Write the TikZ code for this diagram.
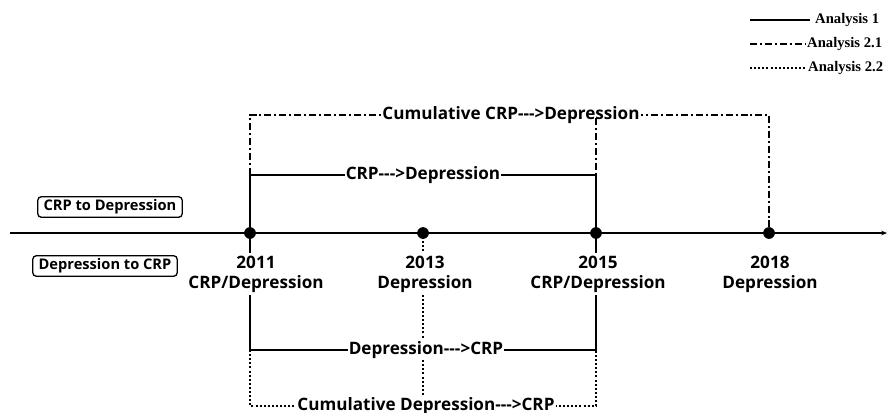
\documentclass[tikz,border=0pt]{standalone}
\usepackage{fontspec}
\setmainfont{Open Sans}
\newfontfamily\legendfont{Liberation Serif}
\usetikzlibrary{arrows.meta}

\newcommand{\lto}{-{}-{}->}
\tikzset{
  lab/.style={font=\bfseries\fontsize{14.6}{17}\selectfont, inner sep=1pt},
  onlab/.style={lab, fill=white},
  yr/.style={lab, align=center, fill=white, inner ysep=2pt},
  dirbox/.style={draw, rounded corners=3pt, line width=1.1pt, font=\bfseries\fontsize{12.5}{14}\selectfont, inner xsep=5pt, inner ysep=2.5pt},
  an1/.style={line width=1.7pt},
  an21/.style={line width=1.7pt, dash pattern=on 6pt off 2.5pt on 1.7pt off 2.5pt},
  an22/.style={line width=1.7pt, dash pattern=on 1.7pt off 1.8pt},
  legtxt/.style={font=\legendfont\bfseries\fontsize{12.5}{14}\selectfont, anchor=west, inner sep=0pt},
}

\begin{document}
\begin{tikzpicture}[x=0.03cm, y=-0.03cm]
    \useasboundingbox (0,0) rectangle (888,412);
    % Points on the time line
    \coordinate (t0) at (10,233);
    \coordinate (t1) at (887,233);
    \coordinate (p11) at (250,233);
    \coordinate (p13) at (423,233);
    \coordinate (p15) at (596,233);
    \coordinate (p18) at (769,233);
    % Corners of the brackets
    \coordinate (c11) at (250,115);
    \coordinate (c15) at (596,118);
    \coordinate (c18) at (769,115);
    \coordinate (s11) at (250,175);
    \coordinate (s15) at (596,175);
    \coordinate (d11) at (250,350);
    \coordinate (d15) at (596,350);
    \coordinate (b11) at (250,406);
    \coordinate (b13) at (423,406);
    \coordinate (b15) at (596,406);
    % Time line
    \draw [an1, -{Stealth[length=5pt,width=4pt]}] (t0) -- (t1);
    % Analysis 1
    \draw [an1] (s11) -- (s15);
    \draw [an1] (s11) -- (d11) -- (d15) -- (s15);
    % Analysis 2.1
    \draw [an21] (s11) -- (c11) -- (c18) -- (p18);
    % Analysis 2.2
    \draw [an22] (d11) -- (b11) -- (b15) -- (d15);
    \draw [an22] (p13) -- (b13);
    % Labels on the brackets
    \node [onlab] (cumcrp) at (511,115) {Cumulative CRP\lto Depression};
    \node [onlab] (crp) at (423,175) {CRP\lto Depression};
    \node [onlab] (dep) at (426,350) {Depression\lto CRP};
    \node [onlab] (cumdep) at (426,406) {Cumulative Depression\lto CRP};
    \draw [an21] (c15) -- (s15);
    % Dots
    \foreach \p in {p11,p13,p15,p18}
        \fill (\p) circle (5pt);
    % Years
    \node [yr] (y11) at (256,274) {2011\\CRP/Depression};
    \node [yr] (y13) at (425,274) {2013\\Depression};
    \node [yr] (y15) at (598,274) {2015\\CRP/Depression};
    \node [yr] (y18) at (770,274) {2018\\Depression};
    % Direction boxes
    \node [dirbox] (crpdep) at (110,207) {CRP to Depression};
    \node [dirbox] (depcrp) at (105,266) {Depression to CRP};
    % Legend
    \coordinate (l1a) at (750,20);
    \coordinate (l1b) at (810,20);
    \coordinate (l2a) at (750,44);
    \coordinate (l2b) at (806,44);
    \coordinate (l3a) at (750,68);
    \coordinate (l3b) at (807,68);
    \draw [an1, line width=1.2pt] (l1a) -- (l1b);
    \draw [an21, line width=1.2pt] (l2a) -- (l2b);
    \draw [an22, line width=1.2pt] (l3a) -- (l3b);
    \node [legtxt] (leg1) at (815,20) {Analysis 1};
    \node [legtxt] (leg2) at (807,44) {Analysis 2.1};
    \node [legtxt] (leg3) at (808,68) {Analysis 2.2};
\end{tikzpicture}
\end{document}
